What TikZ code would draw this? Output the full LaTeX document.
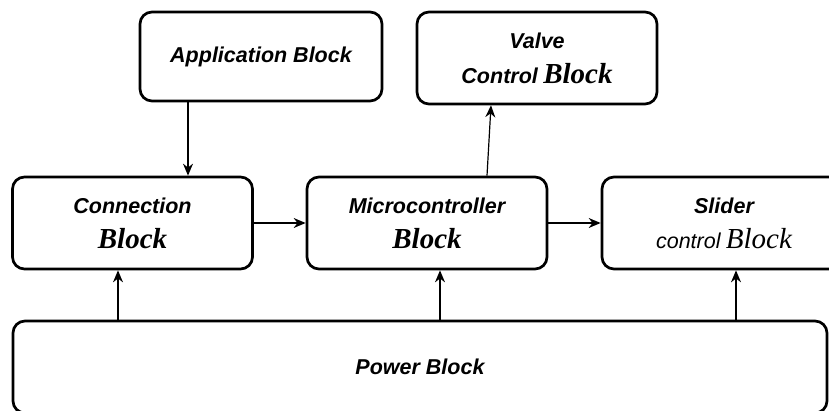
\documentclass[tikz,border=0pt]{standalone}
\usepackage{fontspec}
\setmainfont{Liberation Serif}
\setsansfont{Liberation Sans}
\usetikzlibrary{arrows.meta, calc, positioning}
\tikzset{
	blk/.style={draw, line width=2.7pt, rounded corners=12pt, align=center, inner sep=0pt},
	arr/.style={-{Stealth[length=12pt,width=10pt]}, line width=1.2pt}
}
\newcommand{\sw}[1]{{\sffamily\bfseries\itshape #1}}
\newcommand{\sn}[1]{{\sffamily\itshape #1}}
\newcommand{\bw}[1]{{\rmfamily\bfseries\itshape\fontsize{29}{35}\selectfont #1}}
\newcommand{\bn}[1]{{\rmfamily\itshape\fontsize{29}{35}\selectfont #1}}

\begin{document}
\begin{tikzpicture}[
	x=1pt, y=-1pt,
	font=\fontsize{21.5}{35}\selectfont,
	wide/.style={minimum width=240pt, minimum height=92pt}]
	\useasboundingbox (0,0) rectangle (829,411);
	\clip (0,0) rectangle (829,411);
	\node[blk, minimum width=242pt, minimum height=89pt] (app) at (261,56.5) {\sw{Application Block}};
	\node[blk, wide] (valve) at (537,58) {\sw{Valve}\\ \sw{Control} \bw{Block}};
	\node[blk, wide] (conn) at (132.5,223) {\sw{Connection}\\ \bw{Block}};
	\node[blk, wide] (micro) at (427,223) {\sw{Microcontroller}\\ \bw{Block}};
	\node[blk, wide, minimum width=244pt] (slider) at (724,223) {\sw{Slider}\\ \sn{control} \bn{Block}};
	\node[blk, minimum width=814pt, minimum height=92pt] (power) at (420,367) {\sw{Power Block}};
	% arrows
	\draw[arr] ([xshift=-73pt]app.south) -- ([xshift=55.5pt]conn.north);
	\draw[arr] ([xshift=60pt]micro.north) -- ([xshift=-46pt]valve.south);
	\draw[arr] (conn.east) -- (micro.west);
	\draw[arr] (micro.east) -- (slider.west);
	\coordinate (pc) at ([xshift=-14.5pt]conn.south);
	\coordinate (pm) at ([xshift=13pt]micro.south);
	\coordinate (ps) at ([xshift=12pt]slider.south);
	\draw[arr] (pc |- power.north) -- (pc);
	\draw[arr] (pm |- power.north) -- (pm);
	\draw[arr] (ps |- power.north) -- (ps);
\end{tikzpicture}
\end{document}
